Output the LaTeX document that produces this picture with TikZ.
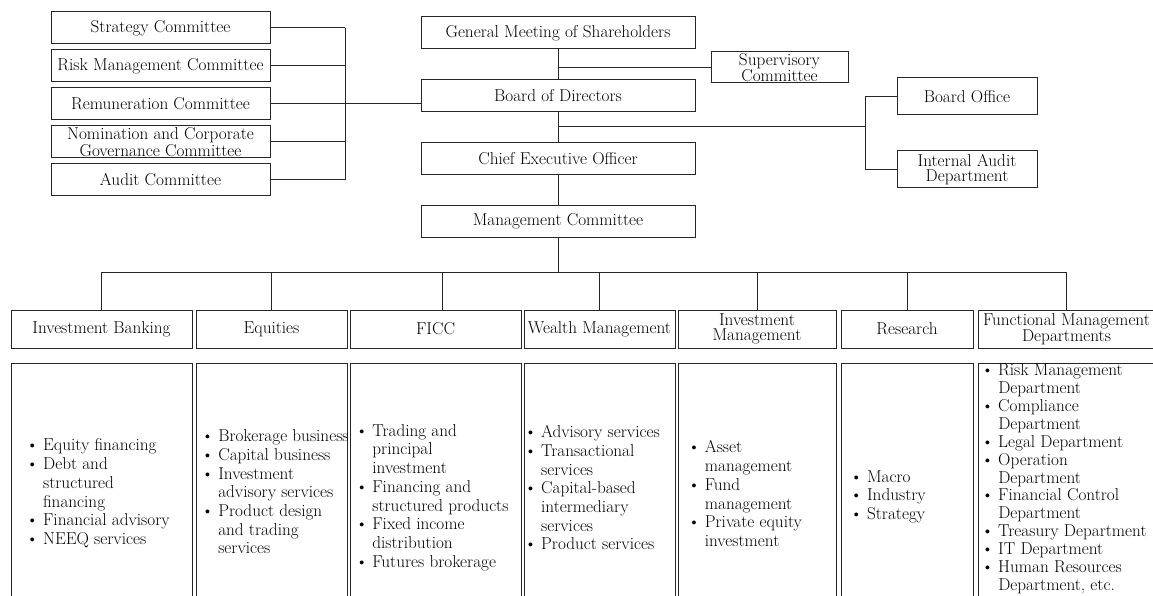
\documentclass[tikz,border=0pt]{standalone}
\usepackage{tikz}
\usetikzlibrary{positioning}
\newcommand{\itm}[1]{\textbullet & #1\\}
\newcommand{\cnt}[1]{& #1\\}
\newenvironment{blist}{\begin{tabular}{@{}l@{\hspace{4.5pt}}l@{}}}{\end{tabular}}

\begin{document}
\begin{tikzpicture}[
  x=1pt, y=-1pt,
  font=\fontsize{17.2}{15}\selectfont,
  ln/.style={draw=black!85, line width=1pt},
  box/.style={ln, minimum height=32pt, inner sep=1pt, align=center},
  cbox/.style={box, minimum width=219pt},
  mbox/.style={box, minimum width=274pt},
  dbox/.style={box, minimum width=#1, minimum height=38pt},
  lbox/.style={ln, minimum width=#1, minimum height=258pt, inner sep=0pt},
  lst/.style={font=\fontsize{17.2}{18.7}\selectfont, inner sep=0pt}
]
\useasboundingbox (0,0) rectangle (1153,596);
\clip (0,0) rectangle (1153,596);

% board committees
\node[cbox] (sc) at (160.5,28) {Strategy Committee};
\node[cbox, below=5pt of sc] (rmc) {Risk Management Committee};
\node[cbox, below=5pt of rmc] (rc) {Remuneration Committee};
\node[cbox, below=5pt of rc] (ngc) {Nomination and Corporate\\Governance Committee};
\node[cbox, below=5pt of ngc] (ac) {Audit Committee};

% main column
\node[mbox] (gm) at (558,33) {General Meeting of Shareholders};
\node[mbox, below=30pt of gm] (bod) {Board of Directors};
\node[mbox, below=30pt of bod] (ceo) {Chief Executive Officer};
\node[mbox, below=29pt of ceo] (mc) {Management Committee};
\node[box, minimum width=137pt, minimum height=31pt] (sup) at (779.5,67.5) {Supervisory\\Committee};
\node[box, minimum width=140pt, minimum height=37pt] (bo) at (967,96.5) {Board Office};
\node[box, minimum width=140pt, minimum height=37pt] (iad) at (967,169.5) {Internal Audit\\Department};

% committee bus
\coordinate (cbus) at (345,0);
\draw[ln] (sc.east) -- (sc.east -| cbus);
\draw[ln] (rmc.east) -- (rmc.east -| cbus);
\draw[ln] (ngc.east) -- (ngc.east -| cbus);
\draw[ln] (ac.east) -- (ac.east -| cbus);
\draw[ln] (sc.east -| cbus) -- (ac.east -| cbus);
\draw[ln] (rc.east) -- (rc.east -| bod.west);

% main chain
\draw[ln] (gm) -- (bod);
\draw[ln] (bod) -- (ceo);
\draw[ln] (ceo) -- (mc);
\draw[ln] (sup.west) -- (sup.west -| gm.south);
\coordinate (jn) at (865,127);
\draw[ln] (jn -| bod.south) -- (jn);
\draw[ln] (bo.west) -| (jn) |- (iad.west);

% business lines
\node[dbox=181pt] (ib) at (101.5,329) {Investment Banking};
\node[dbox=151pt] (eq) at (271.5,329) {Equities};
\node[dbox=171pt] (ficc) at (435.5,329) {FICC};
\node[dbox=151pt] (wm) at (599.5,329) {Wealth Management};
\node[dbox=158pt] (im) at (757,329) {Investment\\Management};
\node[dbox=132pt] (res) at (907,329) {Research};
\node[dbox=177pt] (fmd) at (1066.5,329) {Functional Management\\Departments};

\coordinate (bus) at (558,272);
\draw[ln] (mc) -- (bus);
\draw[ln] (bus -| ib.north) -- (bus -| fmd.north);
\draw[ln] (bus -| ib.north) -- (ib.north);
\draw[ln] (bus -| eq.north) -- (eq.north);
\draw[ln] ([xshift=6.5pt]bus -| ficc.north) -- ([xshift=6.5pt]ficc.north);
\draw[ln] (bus -| wm.north) -- (wm.north);
\draw[ln] (bus -| im.north) -- (im.north);
\draw[ln] (bus -| res.north) -- (res.north);
\draw[ln] (bus -| fmd.north) -- (fmd.north);

% detail boxes
\node[lbox=181pt, below=14pt of ib] (ibd) {};
\node[lbox=151pt, below=14pt of eq] (eqd) {};
\node[lbox=171pt, below=14pt of ficc] (ficcd) {};
\node[lbox=151pt, below=14pt of wm] (wmd) {};
\node[lbox=158pt, below=14pt of im] (imd) {};
\node[lbox=132pt, below=14pt of res] (resd) {};
\node[lbox=177pt, below=14pt of fmd] (fmdd) {};

\node[lst] (ibl) at (98,494) {\begin{blist}
\itm{Equity financing}
\itm{Debt and}
\cnt{structured}
\cnt{financing}
\itm{Financial advisory}
\itm{NEEQ services}
\end{blist}};
\node[lst] (eql) at (275,494) {\begin{blist}
\itm{Brokerage business}
\itm{Capital business}
\itm{Investment}
\cnt{advisory services}
\itm{Product design}
\cnt{and trading}
\cnt{services}
\end{blist}};
\node[lst] (ficcl) at (432,498) {\begin{blist}
\itm{Trading and}
\cnt{principal}
\cnt{investment}
\itm{Financing and}
\cnt{structured products}
\itm{Fixed income}
\cnt{distribution}
\itm{Futures brokerage}
\end{blist}};
\node[lst] (wml) at (592,490) {\begin{blist}
\itm{Advisory services}
\itm{Transactional}
\cnt{services}
\itm{Capital-based}
\cnt{intermediary}
\cnt{services}
\itm{Product services}
\end{blist}};
\node[lst] (iml) at (745,496) {\begin{blist}
\itm{Asset}
\cnt{management}
\itm{Fund}
\cnt{management}
\itm{Private equity}
\cnt{investment}
\end{blist}};
\node[lst] (resl) at (888,497) {\begin{blist}
\itm{Macro}
\itm{Industry}
\itm{Strategy}
\end{blist}};
\node[lst, font=\fontsize{17.2}{17.9}\selectfont] (fmdl) at (1064,479.5) {\begin{blist}
\itm{Risk Management}
\cnt{Department}
\itm{Compliance}
\cnt{Department}
\itm{Legal Department}
\itm{Operation}
\cnt{Department}
\itm{Financial Control}
\cnt{Department}
\itm{Treasury Department}
\itm{IT Department}
\itm{Human Resources}
\cnt{Department, etc.}
\end{blist}};
\end{tikzpicture}
\end{document}
